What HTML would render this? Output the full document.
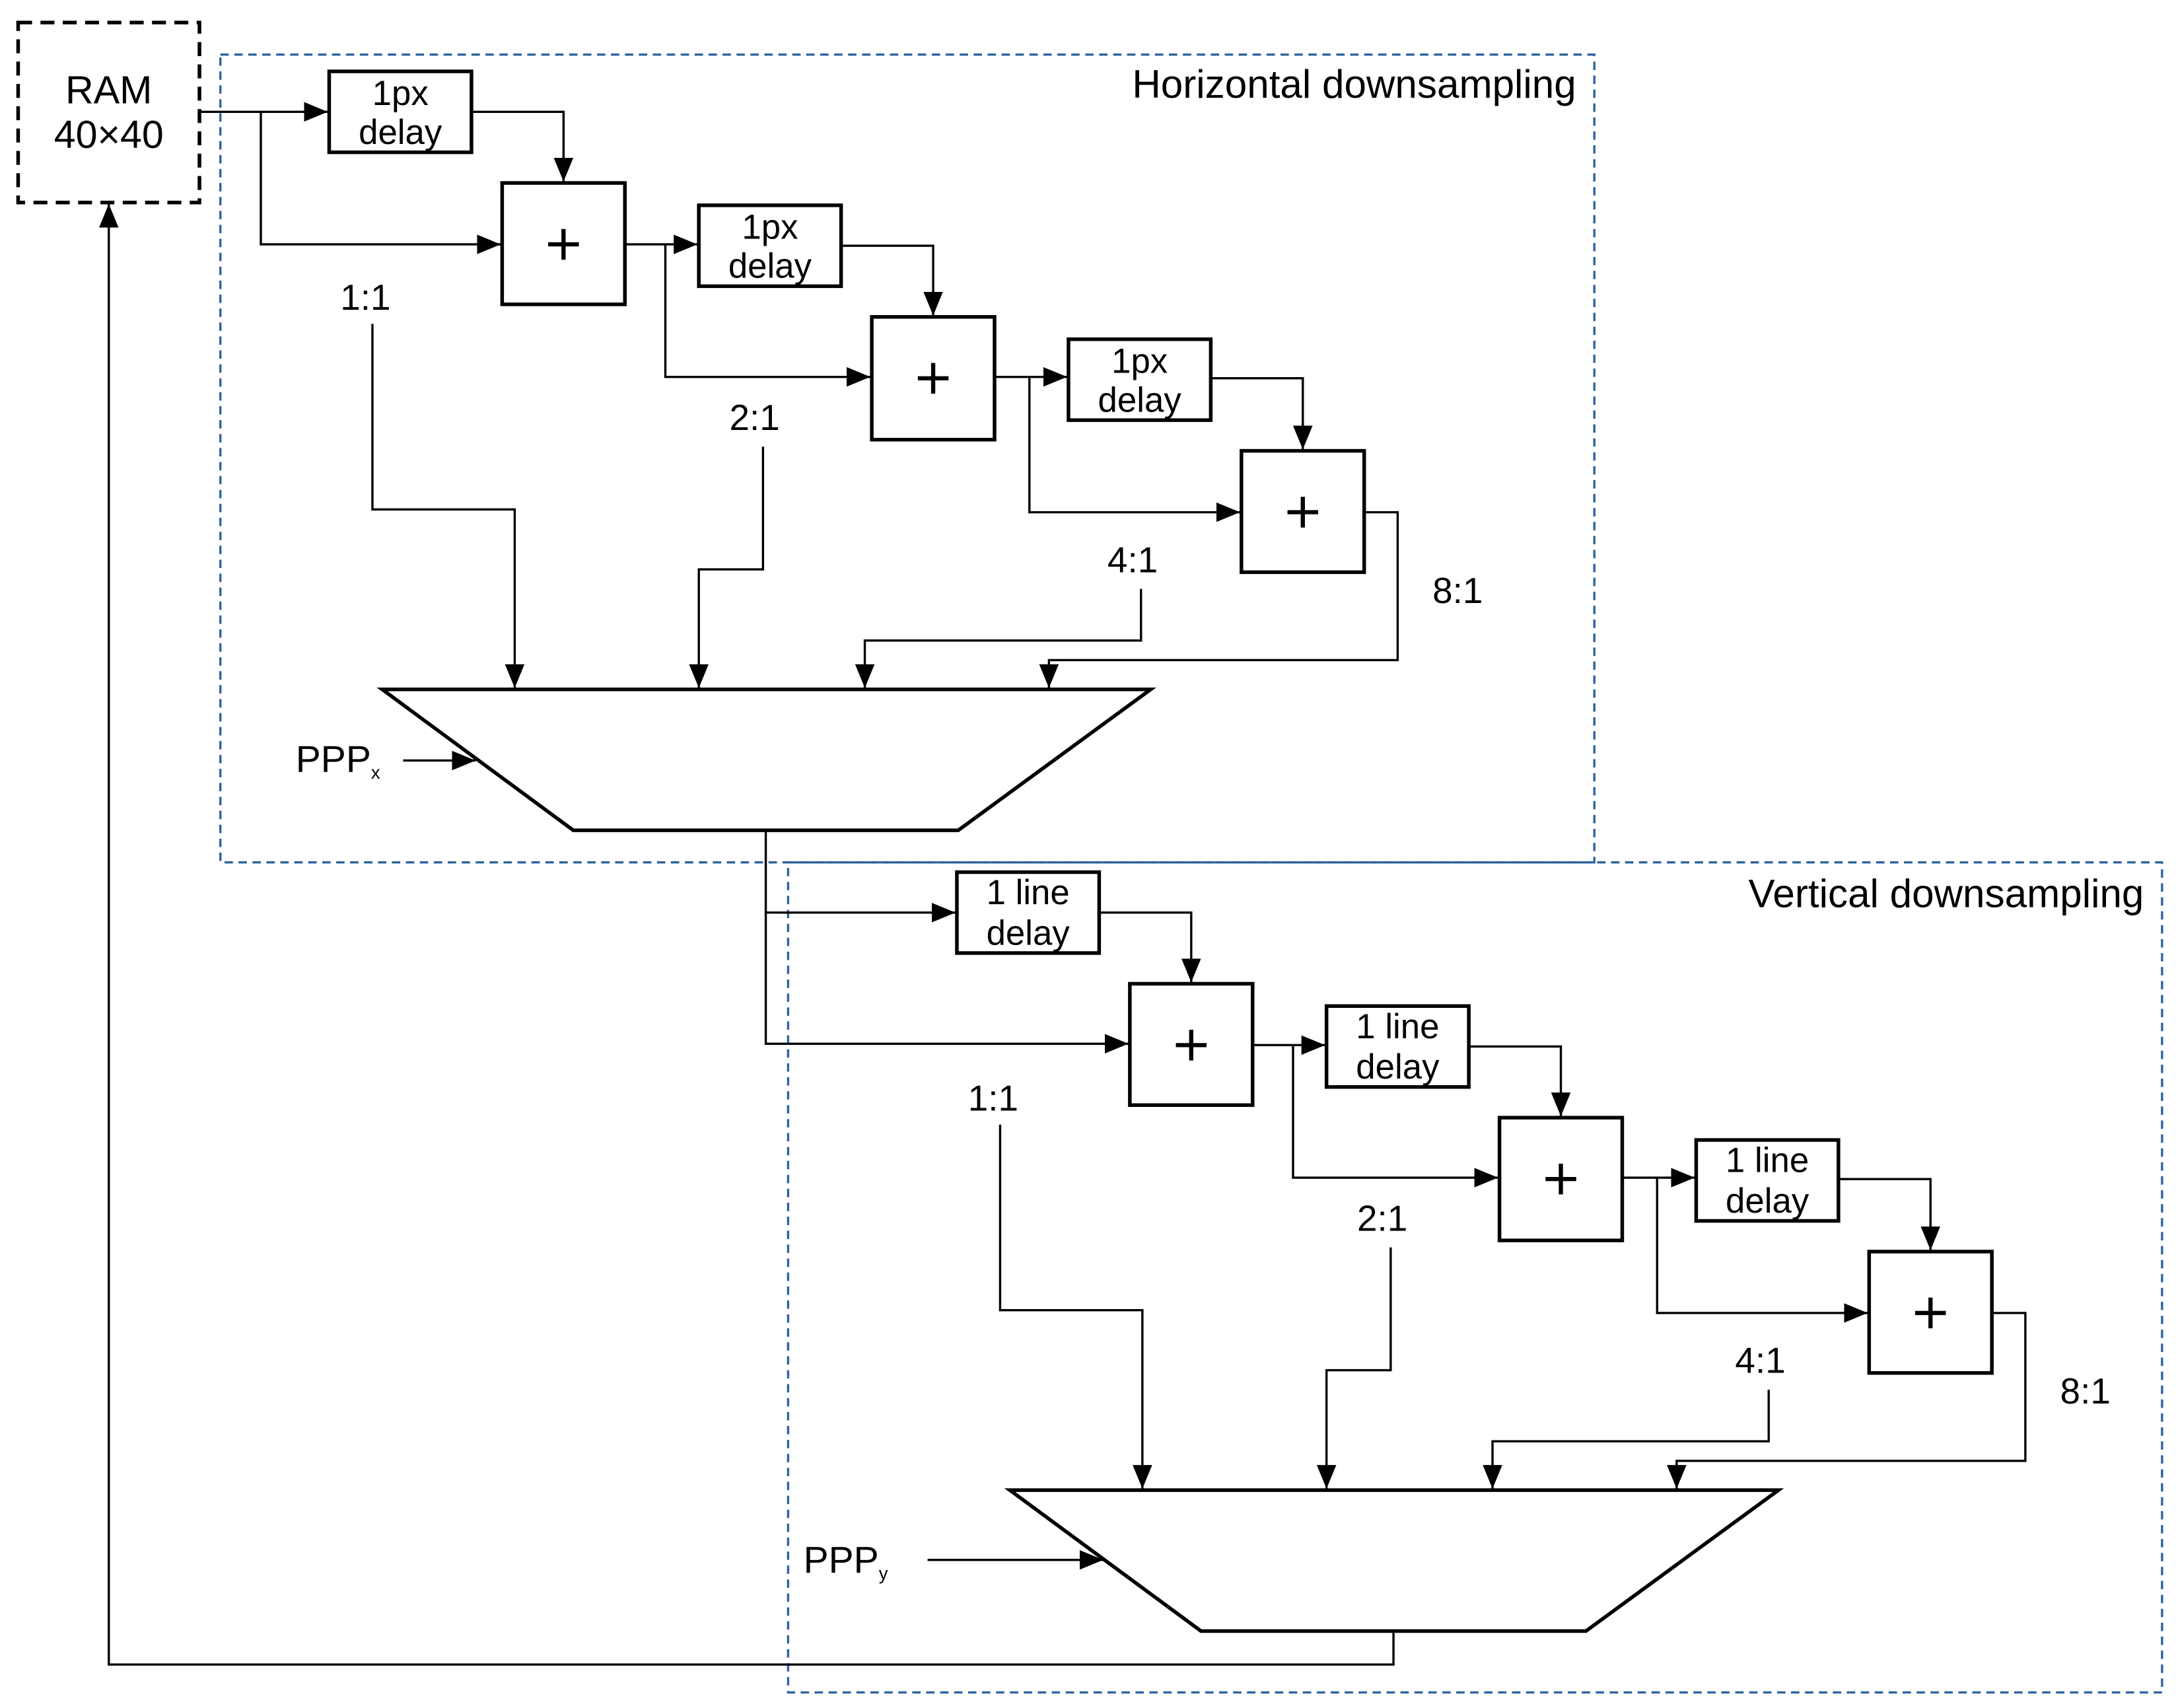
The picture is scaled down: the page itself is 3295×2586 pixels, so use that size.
<!DOCTYPE html>
<html><head><meta charset="utf-8"><style>
html,body{margin:0;padding:0;background:#fff;}
svg{display:block;}
text{font-family:"Liberation Sans",Arial,sans-serif;fill:#000;}
</style></head><body>
<svg width="3295" height="2586" viewBox="0 0 1560 1224" xmlns="http://www.w3.org/2000/svg">
<defs>
<marker id="a" markerWidth="18" markerHeight="14" refX="17" refY="7" orient="auto" markerUnits="userSpaceOnUse">
<path d="M0,0 L17,7 L0,14 Z" fill="#000"/></marker>
<g id="stage">
  <g fill="none" stroke="#000" stroke-width="1.6">
    <path d="M338,80 H404 V130" marker-end="url(#a)"/>
    <path d="M448,175 H500" marker-end="url(#a)"/>
    <path d="M477,175 V270 H624" marker-end="url(#a)"/>
    <path d="M603,176 H669 V226" marker-end="url(#a)"/>
    <path d="M713,270 H765" marker-end="url(#a)"/>
    <path d="M738,270 V367 H889" marker-end="url(#a)"/>
    <path d="M868,271 H934 V322" marker-end="url(#a)"/>
    <path d="M978,367 H1002 V473 H752 V493" marker-end="url(#a)"/>
    <path d="M267,232 V365 H369 V493" marker-end="url(#a)"/>
    <path d="M547,320 V408 H501 V493" marker-end="url(#a)"/>
    <path d="M818,422 V459 H620 V493" marker-end="url(#a)"/>
  </g>
  <g fill="#fff" stroke="#000" stroke-width="2.6">
    <rect x="360" y="131" width="88" height="87"/>
    <rect x="625" y="227" width="88" height="88"/>
    <rect x="890" y="323" width="88" height="87"/>
    <path d="M274,494 H825 L687,595 H411 Z"/>
  </g>
  <g stroke="#000" stroke-width="3">
    <path d="M393,175 H415 M404,164 V186"/>
    <path d="M658,271 H680 M669,260 V282"/>
    <path d="M923,367 H945 M934,356 V378"/>
  </g>
  <g font-size="26" text-anchor="middle">
    <text x="262" y="222">1:1</text><text x="541" y="308">2:1</text>
    <text x="812" y="410">4:1</text><text x="1045" y="432">8:1</text>
  </g>
</g>
</defs>

<g fill="none" stroke="#2e63a0" stroke-width="1.6" stroke-dasharray="6,4">
<rect x="158" y="39" width="985" height="579"/>
<rect x="565" y="618" width="985" height="595"/>
</g>
<text x="1130" y="70" font-size="28.5" text-anchor="end">Horizontal downsampling</text>
<text x="1537" y="650" font-size="28.5" text-anchor="end">Vertical downsampling</text>

<rect x="13" y="16" width="130" height="129" fill="none" stroke="#000" stroke-width="2.6" stroke-dasharray="10,6"/>
<text x="78" y="74" font-size="28" text-anchor="middle">RAM</text>
<text x="78" y="106" font-size="28" text-anchor="middle">40×40</text>

<g fill="none" stroke="#000" stroke-width="1.6">
<path d="M143,80 H235" marker-end="url(#a)"/>
<path d="M187,80 V175 H359" marker-end="url(#a)"/>
<path d="M289,545 H341" marker-end="url(#a)"/>
<path d="M549,595 V748 H809" marker-end="url(#a)"/>
<path d="M549,654 H685" marker-end="url(#a)"/>
<path d="M665,1118 H791" marker-end="url(#a)"/>
<path d="M999,1169 V1193 H78 V146" marker-end="url(#a)"/>
</g>

<use href="#stage"/>
<use href="#stage" transform="translate(450,574)"/>

<g fill="#fff" stroke="#000" stroke-width="2.6">
<rect x="236" y="51" width="102" height="58"/>
<rect x="501" y="147" width="102" height="58"/>
<rect x="766" y="243" width="102" height="58"/>
<rect x="686" y="625" width="102" height="58"/>
<rect x="951" y="721" width="102" height="58"/>
<rect x="1216" y="817" width="102" height="58"/>
</g>
<g font-size="25" text-anchor="middle">
<text x="287" y="75">1px</text><text x="287" y="103">delay</text>
<text x="552" y="171">1px</text><text x="552" y="199">delay</text>
<text x="817" y="267">1px</text><text x="817" y="295">delay</text>
<text x="737" y="648">1 line</text><text x="737" y="677">delay</text>
<text x="1002" y="744">1 line</text><text x="1002" y="773">delay</text>
<text x="1267" y="840">1 line</text><text x="1267" y="869">delay</text>
</g>

<text x="212" y="553" font-size="27">PPP<tspan font-size="13" dy="5">x</tspan></text>
<text x="576" y="1127" font-size="27">PPP<tspan font-size="13" dy="5">y</tspan></text>
</svg>
</body></html>
